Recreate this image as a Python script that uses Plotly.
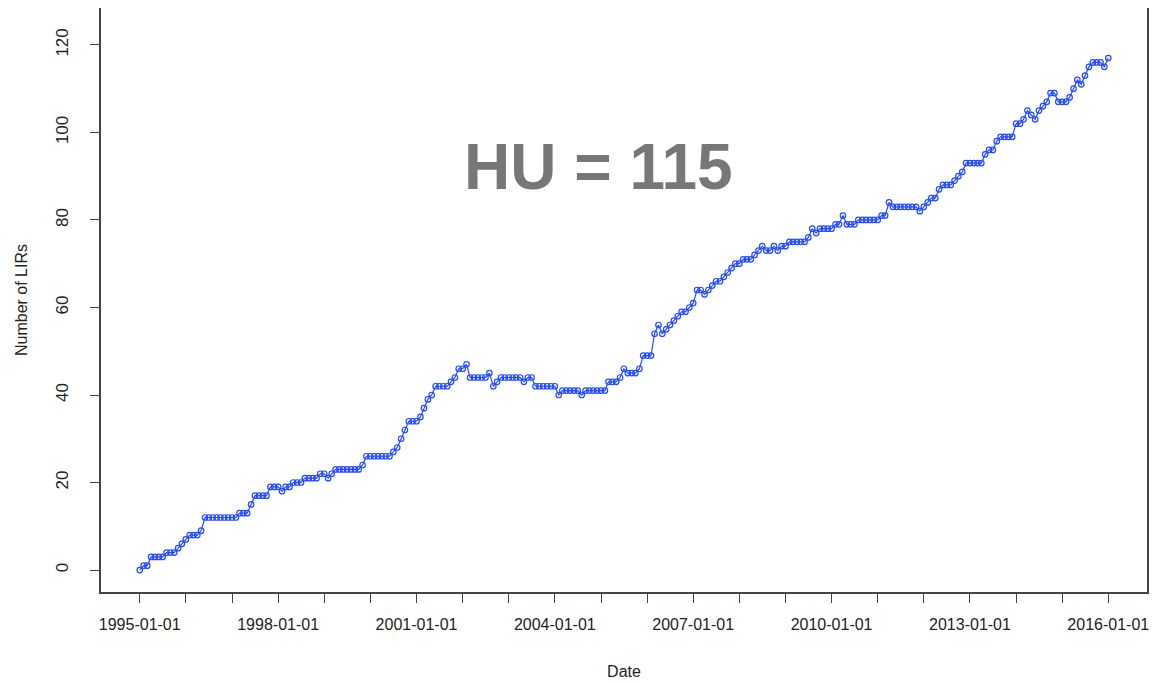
import pandas as pd
import plotly.graph_objects as go

# Monthly counts of LIRs, 1995-01 .. 2016-01 (one list per year)
start_date = "1995-01-01"
y1995 = [0, 1, 1, 3, 3, 3, 3, 4, 4, 4, 5, 6]
y1996 = [7, 8, 8, 8, 9, 12, 12, 12, 12, 12, 12, 12]
y1997 = [12, 12, 13, 13, 13, 15, 17, 17, 17, 17, 19, 19]
y1998 = [19, 18, 19, 19, 20, 20, 20, 21, 21, 21, 21, 22]
y1999 = [22, 21, 22, 23, 23, 23, 23, 23, 23, 23, 24, 26]
y2000 = [26, 26, 26, 26, 26, 26, 27, 28, 30, 32, 34, 34]
y2001 = [34, 35, 37, 39, 40, 42, 42, 42, 42, 43, 44, 46]
y2002 = [46, 47, 44, 44, 44, 44, 44, 45, 42, 43, 44, 44]
y2003 = [44, 44, 44, 44, 43, 44, 44, 42, 42, 42, 42, 42]
y2004 = [42, 40, 41, 41, 41, 41, 41, 40, 41, 41, 41, 41]
y2005 = [41, 41, 43, 43, 43, 44, 46, 45, 45, 45, 46, 49]
y2006 = [49, 49, 54, 56, 54, 55, 56, 57, 58, 59, 59, 60]
y2007 = [61, 64, 64, 63, 64, 65, 66, 66, 67, 68, 69, 70]
y2008 = [70, 71, 71, 71, 72, 73, 74, 73, 73, 74, 73, 74]
y2009 = [74, 75, 75, 75, 75, 75, 76, 78, 77, 78, 78, 78]
y2010 = [78, 79, 79, 81, 79, 79, 79, 80, 80, 80, 80, 80]
y2011 = [80, 81, 81, 84, 83, 83, 83, 83, 83, 83, 83, 82]
y2012 = [83, 84, 85, 85, 87, 88, 88, 88, 89, 90, 91, 93]
y2013 = [93, 93, 93, 93, 95, 96, 96, 98, 99, 99, 99, 99]
y2014 = [102, 102, 103, 105, 104, 103, 105, 106, 107, 109, 109, 107]
y2015 = [107, 107, 108, 110, 112, 111, 113, 115, 116, 116, 116, 115]
y2016 = [117]

counts = (y1995 + y1996 + y1997 + y1998 + y1999 + y2000 + y2001 + y2002 + y2003
          + y2004 + y2005 + y2006 + y2007 + y2008 + y2009 + y2010 + y2011
          + y2012 + y2013 + y2014 + y2015 + y2016)
dates = pd.date_range(start_date, periods=len(counts), freq="MS")

tick_years = list(range(1995, 2017))
tick_labels = [f"{y}-01-01" if (y - 1995) % 3 == 0 else "" for y in tick_years]
tick_vals = [f"{y}-01-01" for y in tick_years]
y_ticks = [0, 20, 40, 60, 80, 100, 120]

annotation_text = "HU = 115"
x_title = "Date"
y_title = "Number of LIRs"

blue = "rgb(35,75,255)"
font_family = "Liberation Sans, Arial, sans-serif"

span = dates[-1] - dates[0]
pad = span * 0.04

fig = go.Figure()
fig.add_trace(go.Scatter(
    x=dates, y=counts, mode="lines+markers",
    line=dict(color=blue, width=1.2),
    marker=dict(symbol="circle-open", size=5.5, color=blue, line=dict(width=1.2, color=blue)),
    showlegend=False, hoverinfo="x+y",
))

fig.add_annotation(
    x=0.476, y=0.728, xref="paper", yref="paper",
    xanchor="center", yanchor="middle",
    text=f"<b>{annotation_text}</b>", showarrow=False,
    font=dict(family=font_family, size=64, color="#777777"),
)

fig.update_layout(
    width=1151, height=675,
    margin=dict(l=93, r=12, t=0, b=91, autoexpand=False),
    paper_bgcolor="white", plot_bgcolor="white",
    font=dict(family=font_family, size=16, color="#222222"),
    xaxis=dict(
        type="date",
        range=[dates[0] - pad, dates[-1] + pad],
        tickvals=tick_vals, ticktext=tick_labels,
        ticks="outside", ticklen=9, tickwidth=1, tickcolor="#444444",
        ticklabelstandoff=8,
        showline=True, linecolor="#444444", linewidth=1.5, mirror=True,
        showgrid=False, zeroline=False,
        title=dict(text=x_title, font=dict(size=16), standoff=34),
        tickfont=dict(size=16),
    ),
    yaxis=dict(
        range=[-5.02, 128.44],
        tickvals=y_ticks,
        ticks="outside", ticklen=9, tickwidth=1, tickcolor="#444444",
        tickangle=-90, ticklabelstandoff=15,
        showline=True, linecolor="#444444", linewidth=1.5, mirror=True,
        showgrid=False, zeroline=False,
        title=dict(text=y_title, font=dict(size=16), standoff=22),
        tickfont=dict(size=17),
    ),
)

fig.write_html("out.html")
